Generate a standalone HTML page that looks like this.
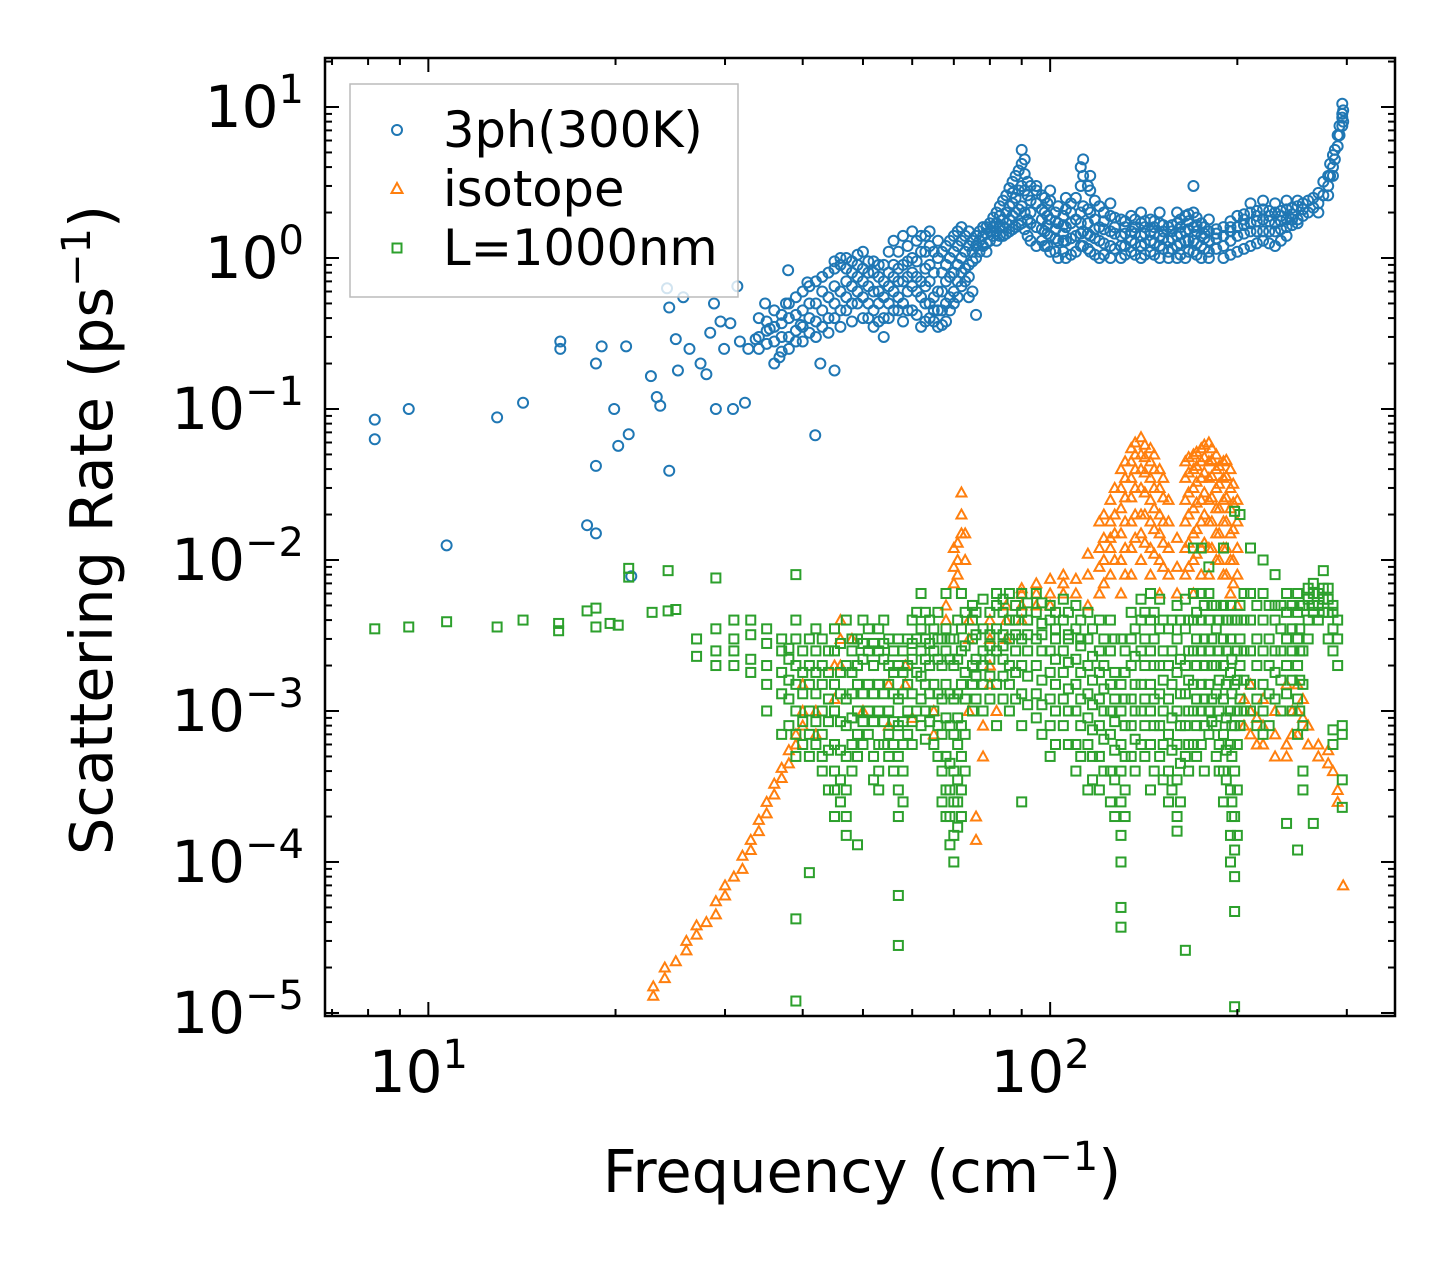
<!DOCTYPE html>
<html><head><meta charset="utf-8"><style>
html,body{margin:0;padding:0;background:#fff;}
svg{display:block;font-family:"DejaVu Sans","Liberation Sans",sans-serif;}
</style></head><body>
<svg id="chart" width="1455" height="1265" viewBox="0 0 1455 1265" xmlns="http://www.w3.org/2000/svg">
<rect width="1455" height="1265" fill="#fff"/>
<g id="marks"></g>
<g id="axes"></g>
<g id="legend">
 <rect x="350" y="84" width="388" height="213" fill="#fff" fill-opacity="0.8" stroke="#bbb" stroke-width="1.5"/>
 <g>
  <circle cx="397" cy="130" r="5" fill="none" stroke="#1f77b4" stroke-width="2"/>
  <text x="443" y="147" font-size="49.5">3ph(300K)</text></g>
 <g>
  <path d="M397,183 L402.5,193 L391.5,193 Z" fill="none" stroke="#ff7f0e" stroke-width="2"/>
  <text x="443" y="206" font-size="49.5">isotope</text></g>
 <g>
  <rect x="392.5" y="243.5" width="9" height="9" fill="none" stroke="#2ca02c" stroke-width="2"/>
  <text x="443" y="265" font-size="49.5">L=1000nm</text></g>
</g>
<text x="862" y="1192" font-size="59" text-anchor="middle">Frequency (cm<tspan dy="-22" font-size="40">−1</tspan><tspan dy="22">)</tspan></text>
<text transform="translate(112,530) rotate(-90)" font-size="59" text-anchor="middle">Scattering Rate (ps<tspan dy="-22" font-size="40">−1</tspan><tspan dy="22">)</tspan></text>
</svg>
<script>
// ---- data ----
const blueSparseF = [8.2,8.2,9.3,10.7,12.9,14.2,16.3,16.3,18.6,18.6,18,18.6,19,19.9,20.2,20.8,21,21.2,22.8,23.3,23.6,24.2,24.4,24.4,25,25.7,25.2,26.3,27.4,28,28.4,28.8,29,29.5,29.9,30.6,30.9,31.4,31.7,32.3,32.7,33.6,34.8,35.4,36.7,37.6,37.9,39.7,40.7,41.9,42.7,45];
const blueSparseR = [0.085,0.063,0.10,0.0125,0.088,0.11,0.28,0.25,0.20,0.042,0.017,0.015,0.26,0.10,0.057,0.26,0.068,0.0078,0.165,0.12,0.105,0.63,0.47,0.039,0.29,0.55,0.18,0.25,0.2,0.17,0.32,0.5,0.1,0.38,0.25,0.37,0.1,0.65,0.28,0.11,0.25,0.29,0.5,0.34,0.22,0.5,0.83,0.36,0.69,0.067,0.2,0.18];
const blueBandF = [34,36,38,40,42,44,46,48,50,52,54,56,58,60,62,64,66,68,70,72,74,76,78,80,82,84,86,88,90,92,95,98,100,103,106,110,113,116,120,125,130,135,140,145,150,155,160,165,170,175,180,190,200,210,220,230,240,250,260,270,280,285,290,295];
const blueBandR = [[0.3,0.25,0.4],[0.35,0.28,0.45,0.2],[0.4,0.3,0.5,0.25],[0.45,0.35,0.6,0.28],[0.5,0.38,0.7,0.3],[0.55,0.4,0.8,0.32],[0.6,0.45,0.9,0.35,1.0],[0.65,0.5,0.95,0.38,0.8],[0.7,0.55,0.4,1.1,0.85],[0.6,0.45,0.8,0.35,0.95],[0.55,0.4,0.7,0.9,0.3],[0.6,0.75,0.45,1.3,0.9],[0.7,0.9,0.5,1.4,0.38],[0.65,0.8,1.0,1.5,0.45],[0.55,0.7,1.1,1.4,0.35],[0.5,0.9,1.2,1.5,0.4,0.7],[0.45,0.6,1.0,1.3,0.35],[0.5,0.7,0.9,1.2,0.38],[0.6,0.8,1.1,1.4,0.5],[0.8,1.0,1.3,1.6,0.65],[0.9,1.2,1.5,0.75,0.55],[1.0,1.4,1.2,0.42],[1.2,1.6,1.4],[1.3,1.7,1.5],[1.5,2.0,1.7,1.3],[1.8,2.4,1.6,1.4],[2.2,2.9,1.8,1.5],[2.5,3.5,2.0,1.6],[3.0,4.2,2.2,1.7,5.2],[2.6,3.2,1.8,1.4],[2.3,2.8,1.6,1.2,3.0],[2.0,2.5,1.5,1.2],[1.8,2.4,1.4,1.1,2.8],[1.7,2.2,1.3,1.0],[1.6,2.1,1.3,1.0,2.5],[1.8,2.5,1.4,1.1],[2.2,3.5,1.5,4.5,1.2],[2.0,2.8,1.4,1.1,3.5],[1.6,2.2,1.3,1.0],[1.5,1.9,1.2,1.0,2.3],[1.4,1.8,1.2,1.0],[1.5,1.9,1.3,1.1],[1.4,1.7,1.2,1.0,2.0],[1.5,1.8,1.3,1.1],[1.4,1.7,1.2,1.0,2.0],[1.3,1.6,1.1,1.0],[1.4,1.7,1.2,1.0,2.0],[1.5,1.9,1.3,1.0],[1.6,2.0,1.3,1.1,3.0],[1.4,1.7,1.2,1.0],[1.3,1.5,1.1,1.0,1.8],[1.4,1.6,1.2,1.0],[1.6,1.9,1.4,1.1],[1.7,2.0,1.5,1.2,2.3],[1.8,2.1,1.5,1.3,2.4],[1.7,2.0,1.5,1.2,2.3],[1.8,2.1,1.6,1.4,2.4],[1.8,2.2,1.7,2.4],[2.0,2.4],[2.3,2.7,2.0],[3.0,3.5,2.6],[4.0,4.8,3.5],[5.5,6.5],[7.5,8.5,10.5,9.0]];
const blueExtraF = [35,37,39,41,43,45,47,49,51,53,55,57,59,61,63,65,67,69,71,73,75,77,79,81,83,85,87,89,91,93,97,99,102,105,108,112,115,118,122,127,132,137,142,147,152,157,162,167,172,177,185,195,205,215,225,235,245,255,265,275,282,287,292,296];
const blueExtraR = [[0.27,0.33,0.38],[0.3,0.37,0.42,0.24],[0.33,0.42,0.55,0.28],[0.4,0.5,0.65,0.32],[0.45,0.6,0.75,0.35],[0.5,0.65,0.85,0.4,0.95],[0.55,0.7,0.85,0.45,1.0],[0.6,0.75,0.9,0.5,1.05],[0.5,0.65,0.8,0.4,0.95],[0.5,0.6,0.75,0.38,0.9],[0.5,0.65,0.8,0.4,1.1],[0.55,0.7,0.85,1.1,0.45],[0.6,0.75,0.95,1.2,0.45],[0.6,0.75,0.95,1.3,0.42],[0.5,0.65,0.85,1.1,1.4,0.38],[0.45,0.55,0.8,1.1,0.38],[0.45,0.6,0.8,1.1,0.36],[0.55,0.75,1.0,1.3,0.45],[0.7,0.9,1.2,1.5,0.55],[0.85,1.1,1.4,0.7],[0.95,1.3,1.1,0.6],[1.1,1.5,1.3],[1.25,1.6,1.45,1.1],[1.4,1.85,1.6],[1.6,2.2,1.9,1.4],[2.0,2.6,1.7,1.45],[2.3,3.2,1.9,1.55,2.7],[2.8,3.8,2.1,1.65],[2.8,3.6,2.0,1.55,4.5],[2.4,3.0,1.7,1.3,2.0],[2.1,2.6,1.55,1.3,1.8],[1.9,2.3,1.45,1.2,1.65],[1.75,2.0,1.35,1.1,1.55],[1.65,1.9,1.3,1.1,1.45],[1.7,2.3,1.35,1.05,2.0],[2.0,3.0,1.45,1.2,1.7,4.0],[2.1,3.0,1.45,1.15,1.7],[1.8,2.4,1.35,1.05,1.55],[1.55,2.0,1.25,1.05,1.75],[1.45,1.85,1.15,1.6],[1.45,1.75,1.2,1.05,1.6],[1.45,1.8,1.25,1.05,1.6],[1.45,1.75,1.25,1.05,1.6],[1.45,1.75,1.25,1.05,1.6],[1.35,1.65,1.15,1.5],[1.35,1.65,1.15,1.5],[1.45,1.8,1.25,1.05,1.6],[1.55,1.95,1.3,1.1,1.75],[1.5,1.85,1.25,1.05,1.65],[1.35,1.6,1.15,1.45],[1.35,1.55,1.15,1.45],[1.5,1.75,1.3,1.05,1.6],[1.65,1.95,1.45,1.15,1.8],[1.75,2.05,1.5,1.25,1.9],[1.75,2.05,1.5,1.25,1.9],[1.75,2.05,1.55,1.3,1.9],[1.8,2.15,1.65,1.95],[1.9,2.3,2.1],[2.15,2.5],[2.6,3.2],[3.5,4.2],[4.5,5.2],[6.5,7.5],[8,9.5]];

const orangeF = [23,24,25,26,27,28,29,30,31,32,33,34,35,36,37,38,39,40,42,45,46,48,50,55,58.5,60,65,68,70,72,74,76,78,80,82,85,90,95,100,105,110,115,120,125,130,135,140,145,150,155,160,165,170,175,180,185,190,195,200,210,220,230,240,250,260,270,280,285,290,296];
const orangeR = [[1.3e-5,1.5e-5],[1.7e-5,2e-5],[2.2e-5],[2.6e-5,3e-5],[3.3e-5,3.8e-5],[4e-5],[4.5e-5,5.5e-5],[6e-5,7e-5],[8e-5],[9e-5,1.1e-4],[1.2e-4,1.4e-4],[1.6e-4,1.9e-4],[2.1e-4,2.5e-4],[2.8e-4,3.3e-4],[3.6e-4,4.2e-4],[4.5e-4,5.5e-4],[6e-4,7e-4],[8e-4,1e-3,1.5e-3],[1e-3,7e-4],[1.2e-3,2e-3],[3e-3,4e-3,2e-3],[3e-3],[1e-3],[8e-4,1.5e-3],[1.5e-3,2e-3],[9e-4],[7e-4,1e-3],[5e-3,4e-3],[0.012,0.009,0.007],[0.028,0.02,0.015],[0.004,0.003,1e-3],[2e-4,1.4e-4],[5e-4,8e-4],[0.0015,0.002,0.003,0.004],[1e-3],[0.003,0.004,0.005],[0.004,0.005,0.006,0.0065],[0.005,0.006,0.007],[0.005,0.006,0.0075],[0.006,0.007,0.008],[0.006,0.0075],[0.005,0.008,0.011],[0.006,0.009,0.012,0.018],[0.008,0.012,0.018,0.025,0.014],[0.01,0.015,0.022,0.03,0.04,0.006],[0.012,0.018,0.026,0.035,0.045,0.055,0.008],[0.015,0.02,0.03,0.04,0.05,0.065,0.01],[0.012,0.018,0.025,0.035,0.045,0.055,0.008],[0.01,0.015,0.02,0.03,0.04,0.006],[0.008,0.012,0.018,0.025],[0.006,0.009,0.014],[0.008,0.012,0.018,0.025,0.035,0.045],[0.01,0.015,0.022,0.03,0.04,0.05,0.006],[0.012,0.018,0.025,0.035,0.045,0.055,0.008],[0.012,0.018,0.025,0.035,0.045,0.06,0.008],[0.01,0.015,0.022,0.03,0.04,0.05],[0.008,0.012,0.018,0.025,0.035,0.045],[0.006,0.01,0.015,0.022,0.03,0.04],[0.005,0.008,0.012,0.018,0.025],[1e-3,7e-4,1.5e-3],[8e-4,6e-4,1.2e-3],[7e-4,5e-4,1e-3],[6e-4,5e-4,1.5e-3],[1.5e-3,1e-3,7e-4],[6e-4,8e-4],[5e-4,6e-4],[4.5e-4,5.5e-4],[4e-4],[3e-4,2.5e-4],[7e-5]];
const orangeExtraF = [71,73,122,127,132,137,142,147,152,167,172,177,182,187,192,197,205,215,245,255];
const orangeExtraR = [[0.01,0.008,0.013],[0.015,0.01],[0.007,0.01,0.014,0.02],[0.01,0.015,0.02,0.03],[0.012,0.018,0.026,0.035,0.045,0.008],[0.014,0.02,0.03,0.04,0.05,0.06],[0.013,0.02,0.028,0.038,0.048,0.058],[0.011,0.016,0.022,0.03,0.04,0.05],[0.009,0.013,0.018,0.026,0.035],[0.009,0.013,0.02,0.028,0.038,0.048],[0.011,0.016,0.024,0.033,0.042,0.052],[0.013,0.02,0.028,0.038,0.048,0.058],[0.012,0.018,0.026,0.036,0.046,0.055],[0.01,0.015,0.022,0.032,0.042],[0.008,0.012,0.018,0.026,0.036,0.046],[0.007,0.01,0.016,0.024,0.032],[1.2e-3,8e-4],[9e-4,6e-4],[1e-3,7e-4],[1.2e-3,9e-4]];

const greenF = [8.2,9.3,10.7,12.9,14.2,16.2,18,18.6,19.6,20.2,21,22.9,24.3,25,27,29,31,33,35,37,39,41,43,45,47,49,51,53,55,57,59,62,65,68,70,72,75,78,82,86,90,95,100,105,110,115,120,125,130,135,140,145,150,155,160,165,170,175,180,185,190,195,198,202,210,220,230,240,250,255,265,275,285,295];
const greenR = [[3.5e-3],[3.6e-3],[3.9e-3],[3.6e-3],[4e-3],[3.8e-3,3.4e-3],[4.6e-3],[4.8e-3,3.6e-3],[3.8e-3],[3.7e-3],[8.8e-3,7.7e-3],[4.5e-3],[8.5e-3,4.6e-3],[4.7e-3],[3e-3,2.3e-3],[3.5e-3,2.5e-3,2e-3,7.6e-3],[3e-3,2.5e-3,4e-3,2e-3],[3.2e-3,2.2e-3,1.8e-3,4e-3],[2.8e-3,2e-3,1.5e-3,3.5e-3,1e-3],[2.5e-3,1.8e-3,1.3e-3,3e-3,7e-4],[2e-3,1.5e-3,1e-3,7e-4,5e-4,3e-3,4e-3,8e-3,4.2e-5,1.2e-5],[2e-3,1.5e-3,1e-3,7e-4,5e-4,3e-3,8.5e-5],[2e-3,1.5e-3,1e-3,7e-4,5e-4,3e-3,4e-4],[2.5e-3,1.5e-3,1e-3,6e-4,4e-4,3e-4,2e-4,3.5e-3],[2e-3,1.2e-3,8e-4,5e-4,3e-4,2e-4,1.5e-4,4e-3],[2e-3,1.5e-3,1e-3,7e-4,5e-4,3e-3,1.3e-4],[2.5e-3,1.5e-3,1e-3,7e-4,3.5e-3],[2.5e-3,1.5e-3,1e-3,6e-4,4e-4,3e-4,3.5e-3],[2e-3,1.5e-3,1e-3,7e-4,5e-4,3e-3],[2e-3,1.2e-3,8e-4,5e-4,3e-4,2e-4,3e-3,6e-5,2.8e-5],[2e-3,1.5e-3,1e-3,7e-4,3e-3],[2.5e-3,1.7e-3,1.2e-3,8e-4,3.5e-3,6e-3],[2.5e-3,1.5e-3,1e-3,6e-4,3.5e-3],[2.5e-3,1.5e-3,9e-4,5e-4,3e-4,2e-4,3.5e-3,6e-3],[2e-3,1.2e-3,7e-4,4e-4,2.5e-4,1.5e-4,1e-4,3e-3],[2.5e-3,1.5e-3,8e-4,5e-4,3e-4,2e-4,3.5e-3,6e-3],[3e-3,2e-3,1.5e-3,1e-3,4e-3,5e-3],[3.5e-3,2.5e-3,2e-3,1.5e-3,5.5e-3,1e-3],[3.5e-3,2.5e-3,1.5e-3,5e-3,6e-3,8e-4],[3e-3,2e-3,1.5e-3,4e-3,6e-3,1e-3],[3e-3,2e-3,1.3e-3,4.5e-3,6e-3,8e-4,2.5e-4],[3e-3,2e-3,1.3e-3,4.5e-3,6e-3,9e-4],[2.5e-3,1.8e-3,1.2e-3,4e-3,5e-3,8e-4,5e-4],[2.5e-3,1.8e-3,1.2e-3,4e-3,5.5e-3,8e-4],[2.2e-3,1.5e-3,1e-3,3.5e-3,5e-3,6e-4,4e-4],[2e-3,1.3e-3,9e-4,3e-3,4.5e-3,6e-4,3e-4],[1.8e-3,1.2e-3,8e-4,2.5e-3,4e-3,5e-4,3e-4],[1.5e-3,1e-3,7e-4,2.5e-3,4e-3,4e-4,2.5e-4],[1.5e-3,1e-3,6e-4,4e-4,2.5e-4,1.5e-4,1e-4,5e-5,3.7e-5,3e-3],[2e-3,1.2e-3,8e-4,5e-4,3e-3,4.5e-3],[2.5e-3,1.5e-3,1e-3,6e-4,4e-3,5.5e-3],[2.5e-3,1.5e-3,1e-3,6e-4,4e-3,6e-3,3e-4],[2e-3,1.3e-3,8e-4,5e-4,3.5e-3,5.5e-3],[2e-3,1.2e-3,7e-4,4e-4,2.5e-4,3.5e-3],[1.8e-3,1e-3,6e-4,3.5e-4,2e-4,1.6e-4,3e-3,5e-3],[2e-3,1.3e-3,8e-4,5e-4,3.5e-3,5.5e-3,2.6e-5],[2.5e-3,1.5e-3,1e-3,6e-4,4e-3,6e-3,0.012],[2.5e-3,1.5e-3,1e-3,6e-4,4e-3,6e-3,0.012],[2.5e-3,1.5e-3,1e-3,7e-4,4e-3,6e-3,9e-3],[2e-3,1.3e-3,8e-4,5e-4,3.5e-3,5e-3],[2e-3,1.2e-3,7e-4,4e-4,2.5e-4,3e-3,5e-3,0.012],[1.8e-3,1e-3,6e-4,3e-4,1.5e-4,1e-4,3e-3,5e-3],[1.5e-3,8e-4,4e-4,2e-4,1.2e-4,8e-5,4.7e-5,1.1e-5,0.021],[2e-3,1.2e-3,8e-4,3e-3,5e-3,0.02],[2.5e-3,1.5e-3,1e-3,4e-3,6e-3,0.012],[2.5e-3,1.5e-3,1e-3,7e-4,4e-3,6e-3,0.01],[2.5e-3,1.8e-3,1.2e-3,4e-3,5e-3,8e-3],[3e-3,2e-3,1.3e-3,4.5e-3,6e-3,1.8e-4],[3e-3,2e-3,1.2e-3,7e-4,4.5e-3,6e-3,1.2e-4],[2.5e-3,1.5e-3,8e-4,4e-4,3e-4,5e-3],[5e-3,6e-3,7e-3,4.5e-3,1.8e-4],[5.5e-3,6.5e-3,8.5e-3,4.5e-3],[5e-3,4.5e-3,3.5e-3,2.5e-3,7.5e-4,6e-4],[8e-4,7e-4,2.3e-4,3.5e-4]];
const greenExtraF = [38,40,42,44,46,48,50,52,54,56,58,60,61,63,64,66,67,69,71,73,76,80,84,88,92,97,102,107,112,117,122,127,132,137,142,147,152,157,162,167,172,177,182,187,192,196,200,205,215,225,235,245,252,260,270,280,290];
const greenExtraR = [[2.2e-3,1.6e-3,1.2e-3,2.6e-3,8e-4],[1.8e-3,1.3e-3,8.5e-4,2.5e-3,6e-4],[1.8e-3,1.3e-3,8.5e-4,2.5e-3,6e-4,3.5e-3],[1.8e-3,1.2e-3,8.5e-4,2.5e-3,5.5e-4,3e-4],[1.8e-3,1.3e-3,8.5e-4,2.8e-3,5.5e-4,3.5e-4,2.5e-4],[1.8e-3,1.3e-3,9e-4,2.5e-3,6e-4,4e-4,3e-3],[2.2e-3,1.3e-3,8.5e-4,2.8e-3,6e-4,4e-3],[2e-3,1.3e-3,8.5e-4,2.8e-3,5e-4,3.5e-4],[2.2e-3,1.3e-3,8.5e-4,2.8e-3,6e-4,4e-3],[1.8e-3,1.3e-3,8.5e-4,2.5e-3,6e-4,4e-4],[1.8e-3,1.3e-3,8.5e-4,2.5e-3,6e-4,4e-4,2.5e-4],[2.2e-3,1.3e-3,8.5e-4,2.8e-3,6e-4,4e-3],[1.8e-3,1e-3,3e-3,4.5e-3],[2.2e-3,1.5e-3,1e-3,3e-3,4.5e-3,6.5e-4],[2e-3,1.3e-3,8.5e-4,2.8e-3,4e-3],[2.2e-3,1.3e-3,8e-4,3e-3,4.5e-3,5e-4],[2e-3,1.2e-3,7e-4,3e-3,4e-4,2.5e-4],[2.2e-3,1.3e-3,8e-4,3e-3,4.5e-4,3e-4,2e-4,1.3e-4],[2.2e-3,1.3e-3,9e-4,6e-4,3.5e-4,2.5e-4,1.7e-4,4e-3],[2.7e-3,1.8e-3,1.2e-3,7e-4,4e-4,4.5e-3],[3.2e-3,2.2e-3,1.7e-3,1.2e-3,4.5e-3],[3.2e-3,2.7e-3,2.2e-3,1.7e-3,4.5e-3,1.2e-3],[3.2e-3,2.7e-3,2.2e-3,1.7e-3,4.5e-3,5.5e-3,1.2e-3],[3.2e-3,2.5e-3,1.8e-3,1.2e-3,4e-3,5e-3],[3.2e-3,2.5e-3,1.7e-3,1.1e-3,4e-3,5.2e-3],[3.2e-3,2.5e-3,1.6e-3,1.1e-3,3.8e-3,5.2e-3,7e-4],[3e-3,2.2e-3,1.5e-3,1e-3,3.5e-3,4.5e-3,6e-4],[3e-3,2.1e-3,1.4e-3,1e-3,3.2e-3,4.5e-3,6e-4],[2.7e-3,1.8e-3,1.2e-3,8e-4,3e-3,4e-3,5e-4],[2.3e-3,1.6e-3,1.1e-3,7.5e-4,3.5e-3,5e-4,3.5e-4],[2e-3,1.4e-3,1e-3,6.5e-4,3e-3,4e-4],[1.8e-3,1.2e-3,8.5e-4,5.5e-4,3e-3,3.5e-4,2e-4],[1.8e-3,1.2e-3,8e-4,5e-4,3e-4,2e-4,2.5e-3],[2.3e-3,1.5e-3,1e-3,6.5e-4,3.5e-3,4e-4],[3e-3,2e-3,1.2e-3,8e-4,4.5e-3,5e-4],[3e-3,2e-3,1.2e-3,8e-4,4.5e-3,4e-4],[2.5e-3,1.6e-3,1e-3,6e-4,4e-3,3.5e-4],[2.5e-3,1.5e-3,9e-4,5.5e-4,3e-4,4e-3],[2.2e-3,1.3e-3,8e-4,4.5e-4,2.5e-4,4e-3],[2.5e-3,1.6e-3,1e-3,6e-4,4e-3,4e-4],[3e-3,2e-3,1.2e-3,8e-4,4.5e-3,5e-4],[3e-3,2e-3,1.2e-3,8e-4,5e-3,4e-4],[3e-3,2e-3,1.2e-3,8.5e-4,5e-3],[2.5e-3,1.6e-3,1e-3,6e-4,4e-3,4e-4],[2.5e-3,1.5e-3,9e-4,5.5e-4,3.5e-4,4e-3],[2.2e-3,1.3e-3,8e-4,5e-4,2.5e-4,4e-3,2e-4],[2.5e-3,1.6e-3,1e-3,6e-4,4e-3,3e-4,1.5e-4],[2.5e-3,1.6e-3,1e-3,4e-3,6e-3],[3e-3,2e-3,1.2e-3,5e-3,8e-4],[3e-3,2e-3,1.3e-3,5e-3,8e-4],[3.5e-3,2.5e-3,1.6e-3,5e-3,1e-3],[3.5e-3,2.5e-3,1.6e-3,5e-3,1e-3],[3.5e-3,2.5e-3,1.6e-3,1e-3,5e-3],[4e-3,3e-3,5.5e-3,6.5e-3],[5e-3,6e-3,4e-3],[5.5e-3,6.5e-3,4.5e-3,3e-3],[4e-3,3e-3,2e-3]];

const xTickVals = [10,100];
const xTickLabels = ["10","10"];
const xTickExps = ["1","2"];
const yTickVals = [10,1,0.1,0.01,0.001,0.0001,0.00001];
const yTickExps = ["1","0","−1","−2","−3","−4","−5"];

// ---- axes ----
const L=325,R=1395,T=58,B=1016;
const xmin=Math.log10(6.82), xmax=Math.log10(358.6);
const ymin=-5.02, ymax=1.3245;
const X=f=>L+(Math.log10(f)-xmin)/(xmax-xmin)*(R-L);
const Y=r=>B-(Math.log10(r)-ymin)/(ymax-ymin)*(B-T);
const NS="http://www.w3.org/2000/svg";
function mk(tag,attrs,parent){const e=document.createElementNS(NS,tag);for(const k in attrs)e.setAttribute(k,attrs[k]);parent.appendChild(e);return e;}
const marks=document.getElementById('marks'), axes=document.getElementById('axes');
const blueG=mk('g',{},marks);


const orangeG=mk('g',{},marks);


const greenG=mk('g',{},marks);



function circ(f,r){const c=mk('circle',{cx:X(f),cy:Y(r),r:5,fill:'none',stroke:'#1f77b4','stroke-width':2},blueG);

}
function tri(f,r){const x=X(f),y=Y(r);
 const p=mk('path',{d:`M${x},${y-5} L${x+5},${y+4} L${x-5},${y+4} Z`,fill:'none',stroke:'#ff7f0e','stroke-width':2},orangeG);
 
 }
function sq(f,r){const x=X(f),y=Y(r);
 const s=mk('rect',{x:x-4.5,y:y-4.5,width:9,height:9,fill:'none',stroke:'#2ca02c','stroke-width':2},greenG);
 
 }
blueSparseF.forEach((f,i)=>circ(f,blueSparseR[i]));
blueBandF.forEach((f,i)=>blueBandR[i].forEach(r=>circ(f,r)));
blueExtraF.forEach((f,i)=>blueExtraR[i].forEach(r=>circ(f,r)));
orangeF.forEach((f,i)=>orangeR[i].forEach(r=>tri(f,r)));
orangeExtraF.forEach((f,i)=>orangeExtraR[i].forEach(r=>tri(f,r)));
greenF.forEach((f,i)=>greenR[i].forEach(r=>sq(f,r)));
greenExtraF.forEach((f,i)=>greenExtraR[i].forEach(r=>sq(f,r)));

// ticks
const tk={stroke:'#000','stroke-width':2};
for(let d=0;d<=3;d++){for(let m=1;m<10;m++){const v=m*Math.pow(10,d);const x=X(v);if(x<L||x>R)continue;const len=m==1?14:7;
 mk('line',Object.assign({x1:x,x2:x,y1:B,y2:B-len},tk),axes);mk('line',Object.assign({x1:x,x2:x,y1:T,y2:T+len},tk),axes);}}
for(let d=-6;d<=2;d++){for(let m=1;m<10;m++){const v=m*Math.pow(10,d);const y=Y(v);if(y<T||y>B)continue;const len=m==1?14:7;
 mk('line',Object.assign({x1:L,x2:L+len,y1:y,y2:y},tk),axes);mk('line',Object.assign({x1:R,x2:R-len,y1:y,y2:y},tk),axes);}}
xTickVals.forEach((v,i)=>{const t=mk('text',{x:X(v)-10,y:1092,'font-size':58,'text-anchor':'middle'},axes);
 
 
 t.innerHTML=xTickLabels[i]+'<tspan dy="-24" font-size="40">'+xTickExps[i]+'</tspan>';});
yTickVals.forEach((v,i)=>{const t=mk('text',{x:304,y:Y(v)+20,'font-size':58,'text-anchor':'end'},axes);
 
 
 t.innerHTML='10<tspan dy="-24" font-size="40">'+yTickExps[i]+'</tspan>';});
const frame=mk('rect',{x:L,y:T,width:R-L,height:B-T,fill:'none',stroke:'#000','stroke-width':2.5},axes);


</script>
</body></html>
